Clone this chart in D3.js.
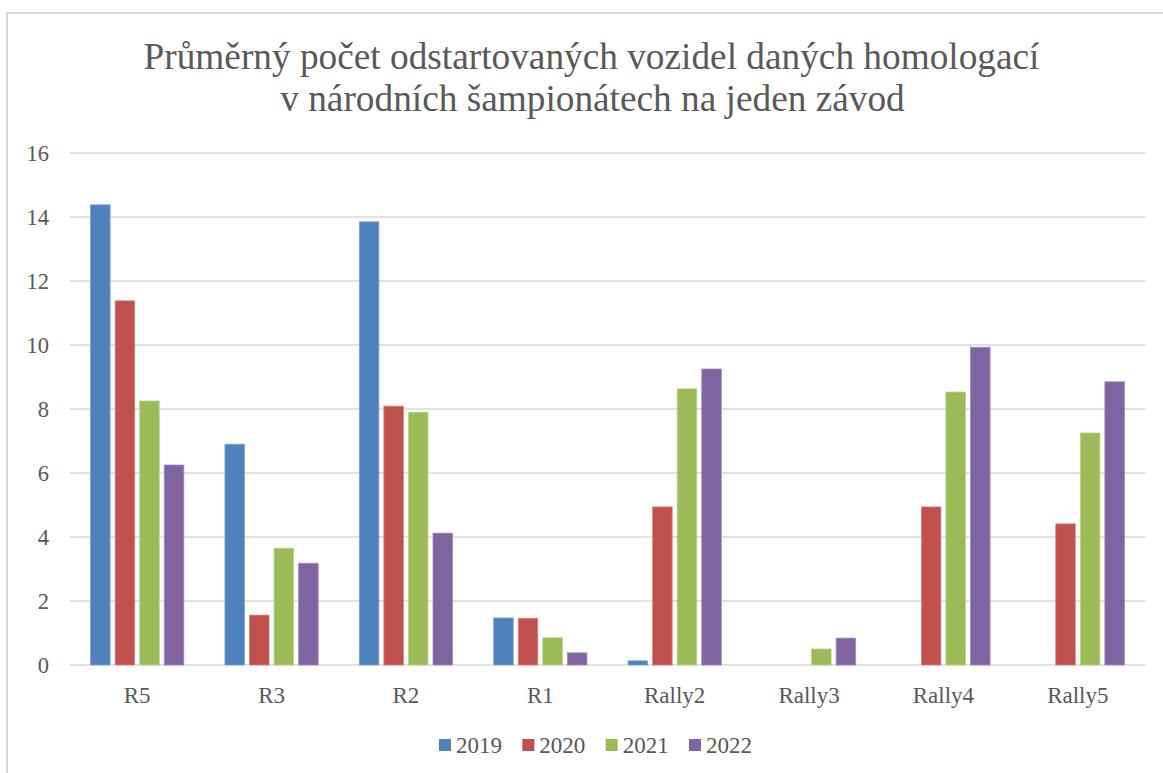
<!DOCTYPE html>
<html>
<head>
<meta charset="utf-8">
<script src="https://cdn.jsdelivr.net/npm/d3@7"></script>
<style>
  html, body { margin: 0; padding: 0; background: #fff; }
  svg { display: block; }
</style>
</head>
<body>
<svg id="chart" width="1163" height="773"></svg>
<script>
const titleLines = ["Průměrný počet odstartovaných vozidel daných homologací", "v národních šampionátech na jeden závod"];
const categories = ["R5", "R3", "R2", "R1", "Rally2", "Rally3", "Rally4", "Rally5"];
const seriesNames = ["2019", "2020", "2021", "2022"];
const values2019 = [14.38, 6.9, 13.85, 1.47, 0.13, 0, 0, 0];
const values2020 = [11.38, 1.56, 8.09, 1.46, 4.94, 0, 4.94, 4.41];
const values2021 = [8.25, 3.65, 7.9, 0.85, 8.63, 0.5, 8.53, 7.25];
const values2022 = [6.25, 3.18, 4.12, 0.38, 9.25, 0.84, 9.93, 8.85];
const yTicks = [0, 2, 4, 6, 8, 10, 12, 14, 16];
const colors = ["#4F81BD", "#C0504D", "#9BBB59", "#8064A2"];
const strokes = ["#7ba3d6", "#d98684", "#b8d486", "#a08bbd"];

const seriesValues = [values2019, values2020, values2021, values2022];
const data = categories.map((c, i) => ({cat: c, vals: seriesNames.map((s, j) => ({s, v: seriesValues[j][i], j}))}));

const svg = d3.select("#chart");
const font = "'Liberation Serif', 'Times New Roman', serif";
const textColor = "#595959";

// chart border
svg.append("rect").attr("x", 7).attr("y", 13).attr("width", 1170).attr("height", 800)
  .attr("fill", "none").attr("stroke", "#d9d9d9").attr("stroke-width", 2);

// title
svg.append("text").attr("x", 591.5).attr("y", 69).attr("text-anchor", "middle")
  .attr("font-family", font).attr("font-size", 37.3).attr("fill", textColor).text(titleLines[0]);
svg.append("text").attr("x", 592.5).attr("y", 111).attr("text-anchor", "middle")
  .attr("font-family", font).attr("font-size", 37.3).attr("fill", textColor).text(titleLines[1]);

const plotLeft = 70, plotRight = 1145, plotTop = 153, plotBottom = 665;
const x0 = d3.scaleBand().domain(categories).range([plotLeft, plotRight]).paddingInner(0).paddingOuter(0);
const x1 = d3.scaleBand().domain(seriesNames).range([0, x0.bandwidth()]).paddingInner(0.204).paddingOuter(0.837);
const y = d3.scaleLinear().domain([0, 16]).range([plotBottom, plotTop]);

// gridlines
svg.append("g").selectAll("line").data(yTicks).join("line")
  .attr("x1", plotLeft).attr("x2", plotRight)
  .attr("y1", d => y(d)).attr("y2", d => y(d))
  .attr("stroke", "#d9d9d9").attr("stroke-width", 1.6);

// y labels
svg.append("g").selectAll("text").data(yTicks).join("text")
  .attr("x", 49).attr("y", d => y(d) + 8).attr("text-anchor", "end")
  .attr("font-family", font).attr("font-size", 22.5).attr("fill", textColor)
  .text(d => d);

// bars
const groups = svg.append("g").selectAll("g").data(data).join("g")
  .attr("transform", d => `translate(${x0(d.cat)},0)`);
groups.selectAll("rect").data(d => d.vals.filter(v => v.v > 0)).join("rect")
  .attr("x", d => x1(d.s)).attr("width", x1.bandwidth())
  .attr("y", d => y(d.v)).attr("height", d => y(0) - y(d.v))
  .attr("fill", d => colors[d.j]).attr("stroke", d => strokes[d.j]).attr("stroke-width", 0.8);

// x labels
svg.append("g").selectAll("text").data(categories).join("text")
  .attr("x", d => x0(d) + x0.bandwidth() / 2).attr("y", 703).attr("text-anchor", "middle")
  .attr("font-family", font).attr("font-size", 23).attr("fill", textColor)
  .text(d => d);

// legend
const legendX = d3.scalePoint().domain(seriesNames).range([439, 689]);
const lg = svg.append("g").selectAll("g").data(seriesNames).join("g")
  .attr("transform", d => `translate(${legendX(d)},0)`);
lg.append("rect").attr("x", 0).attr("y", 739).attr("width", 12).attr("height", 12)
  .attr("fill", (d, i) => colors[i]);
lg.append("text").attr("x", 17).attr("y", 753)
  .attr("font-family", font).attr("font-size", 23).attr("fill", textColor)
  .text(d => d);
</script>
</body>
</html>
